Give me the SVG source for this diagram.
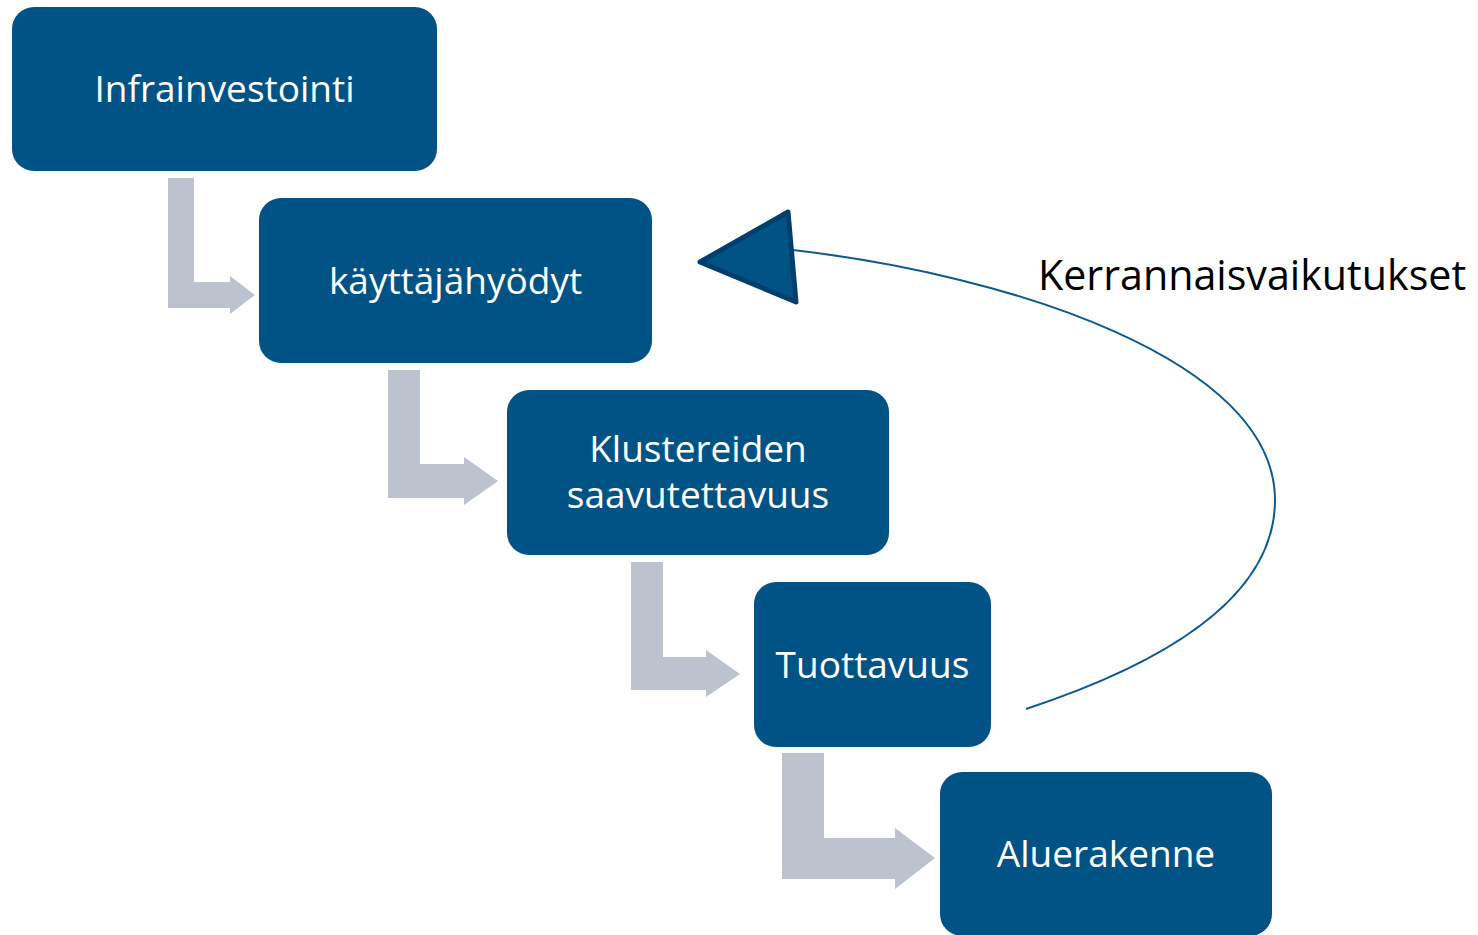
<svg xmlns="http://www.w3.org/2000/svg" width="1478" height="935" viewBox="0 0 1478 935">
<style>
.box{fill:#005384;}
.lbl{fill:#ffffff;font-family:"Open Sans","Noto Sans",sans-serif;font-size:37px;text-anchor:middle;}
.bend{fill:#BDC3CE;}
.side{fill:#000000;font-family:"Open Sans","Noto Sans",sans-serif;font-size:41.2px;}
</style>
<rect width="1478" height="935" fill="#ffffff"/>
<g id="connectors">
<polygon class="bend" points="168,178 194,178 194,282 230,282 230,276 255,295 230,314 230,308 168,308"/>
<polygon class="bend" points="388,370 420,370 420,464 464,464 464,457 498,481 464,505 464,498 388,498"/>
<polygon class="bend" points="631,562 663,562 663,657 706,657 706,650 740,674 706,697 706,690 631,690"/>
<polygon class="bend" points="782,753 824,753 824,838 895,838 895,828 935,858 895,889 895,879 782,879"/>
<path d="M1026,709 C1190,655 1275,585 1275,500 C1275,360 1010,275 793,250" fill="none" stroke="#0E5A8A" stroke-width="2"/>
<polygon points="700,262 788,212 796,302" fill="#005384" stroke="#003F6B" stroke-width="5" stroke-linejoin="round"/>
</g>
<g id="n1"><rect class="box" x="12" y="7" width="425" height="164" rx="22"/><text class="lbl" x="224.5" y="102">Infrainvestointi</text></g>
<g id="n2"><rect class="box" x="259" y="198" width="393" height="165" rx="22"/><text class="lbl" x="455.5" y="294">käyttäjähyödyt</text></g>
<g id="n3"><rect class="box" x="507" y="390" width="382" height="165" rx="22"/><text class="lbl" x="698" y="462">Klustereiden</text><text class="lbl" x="698" y="508">saavutettavuus</text></g>
<g id="n4"><rect class="box" x="754" y="582" width="237" height="165" rx="22"/><text class="lbl" x="872.5" y="678">Tuottavuus</text></g>
<g id="n5"><rect class="box" x="940" y="772" width="332" height="164" rx="22"/><text class="lbl" x="1106" y="867">Aluerakenne</text></g>
<g id="label"><text class="side" x="1038" y="290">Kerrannaisvaikutukset</text></g>
</svg>
